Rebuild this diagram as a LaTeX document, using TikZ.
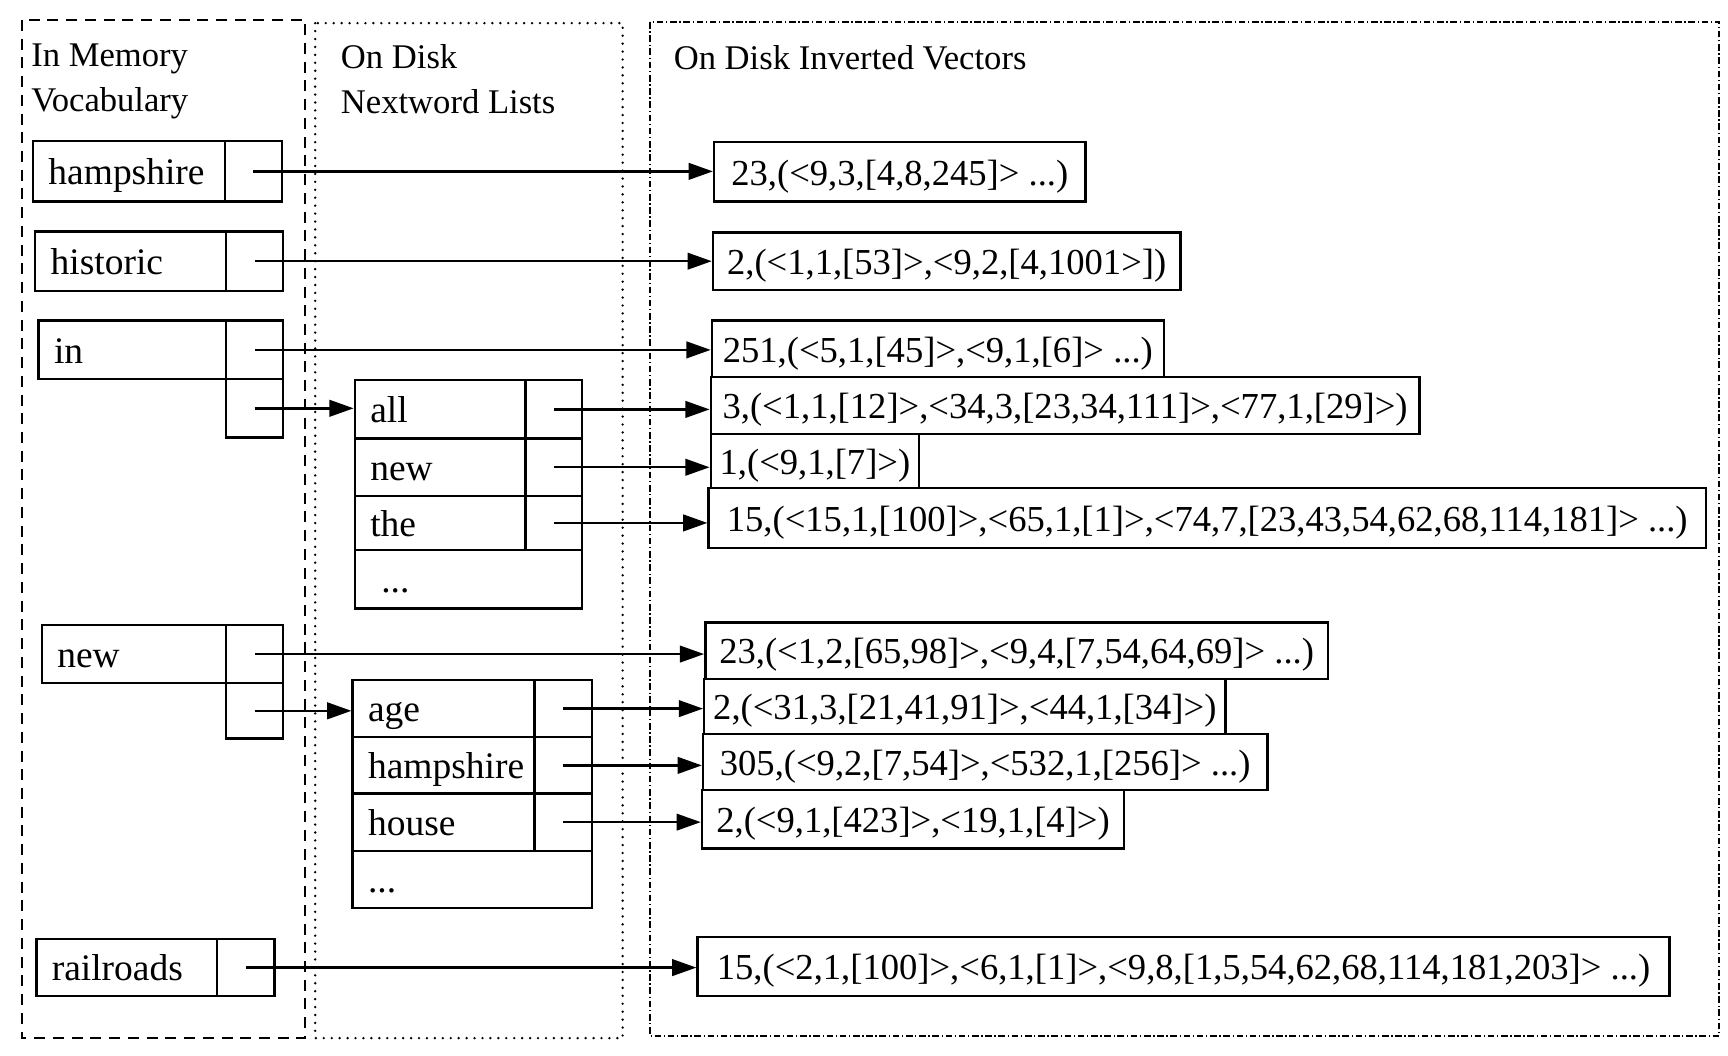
\documentclass[tikz,border=0pt]{standalone}
\usepackage{fontspec}
\setmainfont{Liberation Serif}
\usetikzlibrary{arrows.meta}
\newcommand\cellbox[7][]{%
  \pgfmathsetmacro\cbw{(#5-#3)*0.5}%
  \pgfmathsetmacro\cbh{(#6-#4)*0.5}%
  \pgfmathsetmacro\cbt{max((#5-#3)*0.5-14,1)}%
  \node[cell,#1,minimum width=\cbw pt,minimum height=\cbh pt,text width=\cbt pt] (#2) at ({(#3+#5)/2},{(#4+#6)/2}) {#7};}
\newcommand\vecbox[6]{%
  \pgfmathsetmacro\vbw{(#4-#2)*0.5}%
  \pgfmathsetmacro\vbh{(#5-#3)*0.5}%
  \node[vec,minimum width=\vbw pt,minimum height=\vbh pt] (#1) at ({(#2+#4)/2},{(#3+#5)/2}) {#6};}
\begin{document}
\begin{tikzpicture}[x=0.5pt,y=-0.5pt,
  cell/.style={draw, line width=1.1pt, inner xsep=7pt, inner ysep=0pt, align=left,
    text height=13pt, text depth=1pt, font=\fontsize{17}{20}\selectfont},
  vec/.style={draw, line width=1.1pt, inner xsep=2pt, inner ysep=0pt,
    text height=13pt, text depth=1pt, font=\fontsize{16.6}{20}\selectfont},
  title/.style={anchor=base west, inner sep=0pt, font=\fontsize{15.7}{18}\selectfont},
  arr/.style={line width=1.1pt, -{Triangle[length=11pt,width=7.5pt]}},
  memframe/.style={line width=1pt, dash pattern=on 5pt off 3.5pt},
  nwframe/.style={line width=1.2pt, line cap=round, dash pattern=on 0pt off 3.6pt},
  ivframe/.style={line width=1pt, dash pattern=on 3pt off 1.2pt on 0.6pt off 1.2pt}]
\useasboundingbox (0,0) rectangle (1568,958);
\fill[white] (0,0) rectangle (1568,958);
% frames
\draw[memframe] (20,18) rectangle (277,942);
\draw[nwframe] (286,21) rectangle (565,942);
\draw[ivframe] (590,20) rectangle (1560,940);
% titles
\node[title] (tMem1) at (28,60) {In Memory};
\node[title] (tMem2) at (28,101) {Vocabulary};
\node[title] (tNw1) at (309,62) {On Disk};
\node[title] (tNw2) at (309,103) {Nextword Lists};
\node[title] (tIv) at (611,63) {On Disk Inverted Vectors};
% vocabulary
\cellbox{vHam}{30}{128}{204}{183}{hampshire}
\cellbox{vHamP}{204}{128}{256}{183}{}
\cellbox{vHis}{32}{210}{205}{264}{historic}
\cellbox{vHisP}{205}{210}{257}{264}{}
\cellbox{vIn}{35}{291}{205}{344}{in}
\cellbox{vInP1}{205}{291}{257}{344}{}
\cellbox{vInP2}{205}{344}{257}{397}{}
\cellbox{vNew}{38}{567}{205}{620}{new}
\cellbox{vNewP1}{205}{567}{257}{620}{}
\cellbox{vNewP2}{205}{620}{257}{670}{}
\cellbox{vRail}{33}{852}{197}{904}{railroads}
\cellbox{vRailP}{197}{852}{249}{904}{}
% nextword list 1
\cellbox{l1a}{322}{345}{477}{398}{all}
\cellbox{l1aP}{477}{345}{528}{398}{}
\cellbox{l1n}{322}{398}{477}{450}{new}
\cellbox{l1nP}{477}{398}{528}{450}{}
\cellbox{l1t}{322}{450}{477}{499}{the}
\cellbox{l1tP}{477}{450}{528}{499}{}
\cellbox{l1d}{322}{499}{528}{552}{\hspace*{5pt}...}
% nextword list 2
\cellbox{l2a}{320}{617}{485}{669}{age}
\cellbox{l2aP}{485}{617}{537}{669}{}
\cellbox{l2h}{320}{669}{485}{720}{hampshire}
\cellbox{l2hP}{485}{669}{537}{720}{}
\cellbox{l2o}{320}{720}{485}{772}{house}
\cellbox{l2oP}{485}{720}{537}{772}{}
\cellbox{l2d}{320}{772}{537}{824}{...}
% inverted vectors
\vecbox{iv1}{648}{129}{985}{183}{23,(<9,3,[4,8,245]> ...)}
\vecbox{iv2}{647}{211}{1071}{263}{2,(<1,1,[53]>,<9,2,[4,1001>])}
\vecbox{iv3}{646}{291}{1056}{342}{251,(<5,1,[45]>,<9,1,[6]> ...)}
\vecbox{iv4}{645}{342}{1288}{394}{3,(<1,1,[12]>,<34,3,[23,34,111]>,<77,1,[29]>)}
\vecbox{iv5}{645}{394}{834}{443}{1,(<9,1,[7]>)}
\vecbox{iv6}{643}{443}{1548}{497}{15,(<15,1,[100]>,<65,1,[1]>,<74,7,[23,43,54,62,68,114,181]> ...)}
\vecbox{iv7}{640}{565}{1205}{616}{23,(<1,2,[65,98]>,<9,4,[7,54,64,69]> ...)}
\vecbox{iv8}{639}{616}{1112}{666}{2,(<31,3,[21,41,91]>,<44,1,[34]>)}
\vecbox{iv9}{638}{666}{1150}{717}{305,(<9,2,[7,54]>,<532,1,[256]> ...)}
\vecbox{iv10}{637}{717}{1020}{770}{2,(<9,1,[423]>,<19,1,[4]>)}
\vecbox{iv11}{633}{850}{1515}{904}{15,(<2,1,[100]>,<6,1,[1]>,<9,8,[1,5,54,62,68,114,181,203]> ...)}
% connectors
\draw[arr] (vHamP.center) -- (vHamP.center -| iv1.west);
\draw[arr] (vHisP.center) -- (vHisP.center -| iv2.west);
\draw[arr] (vInP1.center) -- (vInP1.center -| iv3.west);
\draw[arr] (vInP2.center) -- (vInP2.center -| l1a.west);
\draw[arr] (l1aP.center) -- (l1aP.center -| iv4.west);
\draw[arr] (l1nP.center) -- (l1nP.center -| iv5.west);
\draw[arr] (l1tP.center) -- (l1tP.center -| iv6.west);
\draw[arr] (vNewP1.center) -- (vNewP1.center -| iv7.west);
\draw[arr] (vNewP2.center) -- (vNewP2.center -| l2a.west);
\draw[arr] (l2aP.center) -- (l2aP.center -| iv8.west);
\draw[arr] (l2hP.center) -- (l2hP.center -| iv9.west);
\draw[arr] (l2oP.center) -- (l2oP.center -| iv10.west);
\draw[arr] (vRailP.center) -- (vRailP.center -| iv11.west);
\end{tikzpicture}
\end{document}
